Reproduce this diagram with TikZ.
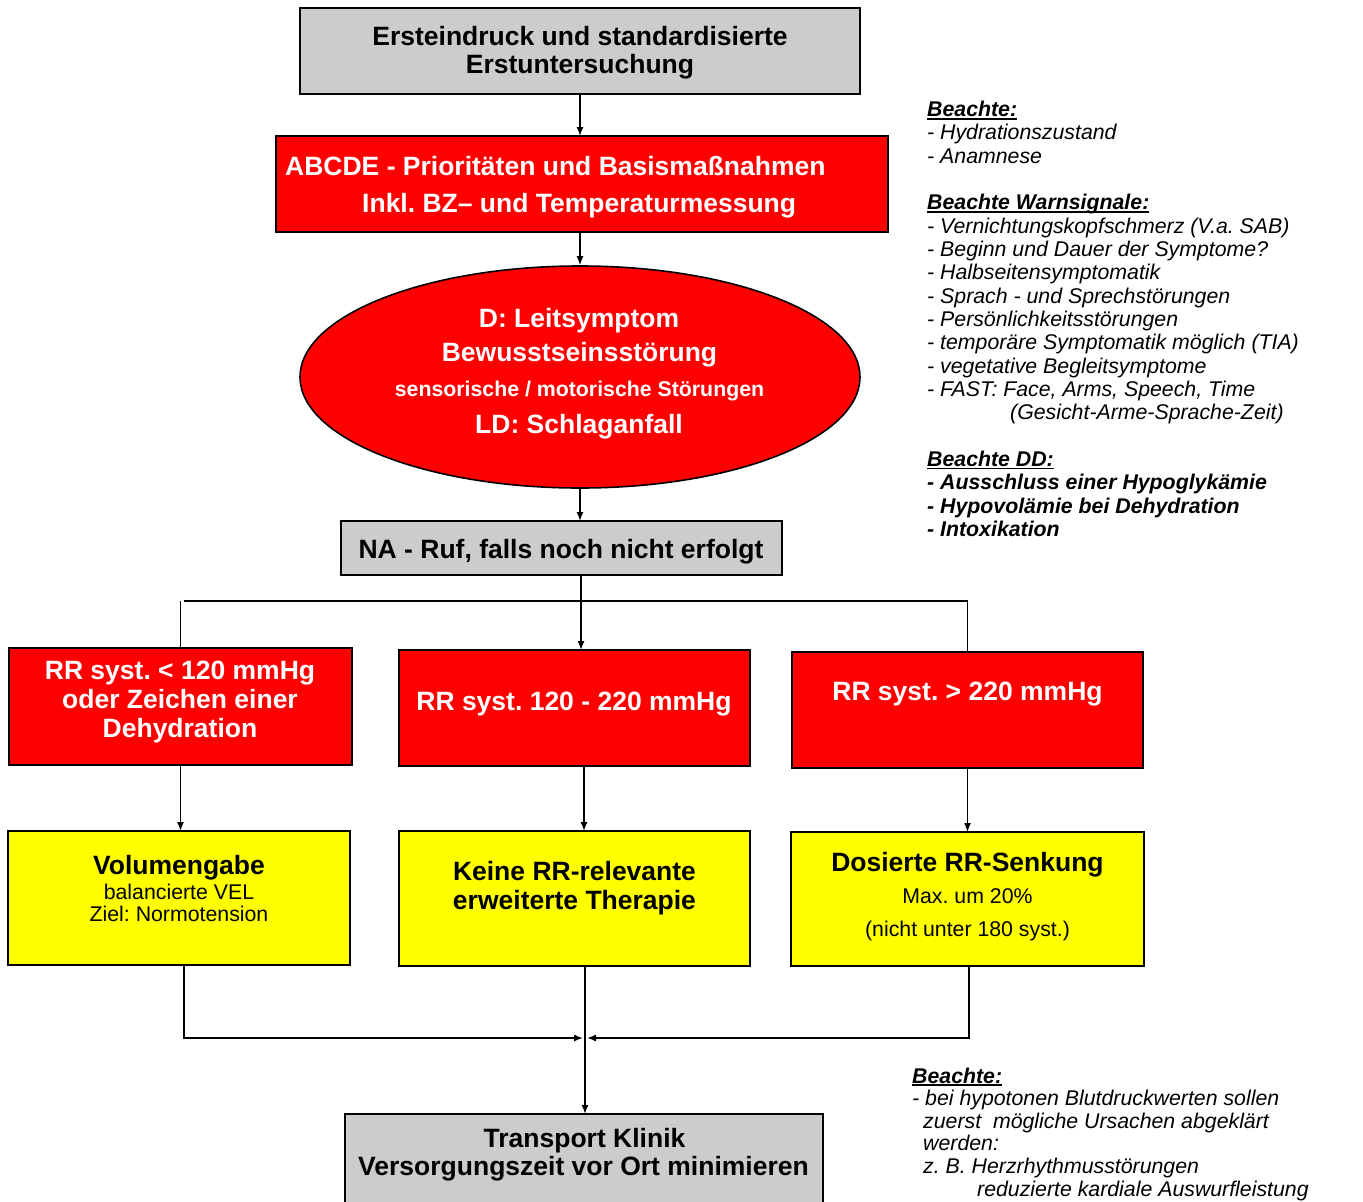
\documentclass[tikz,border=0pt]{standalone}
\usepackage{fontspec}
\setmainfont{Liberation Sans}
\usetikzlibrary{arrows.meta,shapes.geometric}
\definecolor{boxgray}{RGB}{204,204,204}
\definecolor{alarmred}{RGB}{255,0,0}
\definecolor{signyellow}{RGB}{255,255,0}
% underlined heading with a rule just below the baseline
\newcommand\ulhead[1]{\setbox0\hbox{#1}\rlap{\rule[-3pt]{\wd0}{1.6pt}}\box0}
\frenchspacing
\begin{document}
\begin{tikzpicture}[x=1pt,y=-1pt,
  box/.style={draw=black, line width=2pt, inner sep=0pt, outer sep=0pt},
  graybox/.style={box, fill=boxgray},
  redbox/.style={box, fill=alarmred},
  yelbox/.style={box, fill=signyellow},
  big/.style={inner sep=0pt, anchor=base, font=\fontsize{26.5}{28}\selectfont\bfseries},
  bigw/.style={big, text=white},
  midw/.style={inner sep=0pt, anchor=base, text=white, font=\fontsize{21.3}{23}\selectfont\bfseries},
  norm/.style={inner sep=0pt, anchor=base, font=\fontsize{21.3}{23}\selectfont},
  note/.style={inner sep=0pt, anchor=base west, font=\fontsize{21.3}{23}\selectfont\itshape},
  arr/.style={line width=1.4pt, -{Latex[length=9pt,width=7pt]}},
  link/.style={line width=1.6pt}]
\useasboundingbox (0,0) rectangle (1363,1202);
\clip (0,0) rectangle (1363,1202);

% ---------- boxes ----------
\node[graybox, minimum width=560pt, minimum height=86pt] (g1) at (580,51) {};
\node[redbox, minimum width=612pt, minimum height=96pt] (abc) at (582,184) {};
\node[ellipse, draw=black, line width=1.6pt, fill=alarmred, inner sep=0pt,
      minimum width=560pt, minimum height=222pt] (ell) at (580,377) {};
\node[graybox, minimum width=441pt, minimum height=54pt] (na) at (561.5,548) {};

\node[redbox, minimum width=343pt, minimum height=117pt] (rr1) at (180.5,706.5) {};
\node[redbox, minimum width=351pt, minimum height=116pt] (rr2) at (574.5,708) {};
\node[redbox, minimum width=351pt, minimum height=116pt] (rr3) at (967.5,710) {};

\node[yelbox, minimum width=342pt, minimum height=134pt] (y1) at (179,898) {};
\node[yelbox, minimum width=351pt, minimum height=135pt] (y2) at (574.5,898.5) {};
\node[yelbox, minimum width=353pt, minimum height=134pt] (y3) at (967.5,899) {};

\node[graybox, minimum width=478pt, minimum height=101pt] (tk) at (584,1164.5) {};

% ---------- box texts ----------
\node[big] (tg1a) at (580,45) {Ersteindruck und standardisierte};
\node[big] (tg1b) at (580,73) {Erstuntersuchung};

\node[bigw, anchor=base west] (tabc1) at (285,175) {ABCDE - Prioritäten und Basismaßnahmen};
\node[bigw, anchor=base west] (tabc2) at (362,212) {Inkl. BZ– und Temperaturmessung};

\node[bigw] (tell1) at (579,327.5) {D: Leitsymptom};
\node[bigw] (tell2) at (579.5,361.7) {Bewusstseinsstörung};
\node[midw] (tell3) at (579.5,396) {sensorische / motorische Störungen};
\node[bigw] (tell4) at (579,433.5) {LD: Schlaganfall};

\node[big] (tna) at (561,558.5) {NA - Ruf, falls noch nicht erfolgt};

\node[bigw] (trr1a) at (180,679) {RR syst. < 120 mmHg};
\node[bigw] (trr1b) at (180,708.5) {oder Zeichen einer};
\node[bigw] (trr1c) at (180,737) {Dehydration};
\node[bigw] (trr2) at (574,710) {RR syst. 120 - 220 mmHg};
\node[bigw] (trr3) at (967.5,700) {RR syst. > 220 mmHg};

\node[big] (ty1a) at (179,874.3) {Volumengabe};
\node[norm] (ty1b) at (179,899) {balancierte VEL};
\node[norm] (ty1c) at (179,921.7) {Ziel: Normotension};

\node[big] (ty2a) at (574.5,880) {Keine RR-relevante};
\node[big] (ty2b) at (574.5,909) {erweiterte Therapie};

\node[big] (ty3a) at (967.5,871.7) {Dosierte RR-Senkung};
\node[norm] (ty3b) at (967.5,903.3) {Max. um 20\%};
\node[norm] (ty3c) at (967.5,936) {(nicht unter 180 syst.)};

\node[big] (ttk1) at (584.5,1147) {Transport Klinik};
\node[big] (ttk2) at (583.5,1175) {Versorgungszeit vor Ort minimieren};

% ---------- connectors ----------
\coordinate (bus) at (581,601);
\coordinate (join) at (585,1038);

\draw[arr] (g1.south) -- (g1.south |- abc.north);
\draw[arr] (ell.north |- abc.south) -- (ell.north);
\draw[arr] (ell.south) -- (ell.south |- na.north);
\draw[arr] (na.south -| bus) -- (bus |- rr2.north);
\draw[link] (rr1.north) -- (rr1.north |- bus);
\draw[link] (rr3.north) -- (rr3.north |- bus);
\draw[line width=2.4pt] ([xshift=3pt]rr1.north |- bus) -- (rr3.north |- bus);

\draw[arr] (rr1.south) -- (rr1.south |- y1.north);
\draw[arr] ([xshift=9.5pt]rr2.south) -- ([xshift=9.5pt]rr2.south |- y2.north);
\draw[arr] (rr3.south) -- (rr3.south |- y3.north);

\draw[arr] ([xshift=5pt]y1.south) |- ([xshift=-2pt]join);
\draw[arr] ([xshift=1.5pt]y3.south) |- ([xshift=2pt]join);
\draw[arr] (y2.south -| join) -- (join |- tk.north);

% ---------- side notes ----------
\foreach \k/\t in {
  0/{\bfseries\ulhead{Beachte:}},
  1/{- Hydrationszustand},
  2/{- Anamnese},
  4/{\bfseries\ulhead{Beachte Warnsignale:}},
  5/{- Vernichtungskopfschmerz (V.a. SAB)},
  6/{- Beginn und Dauer der Symptome?},
  7/{- Halbseitensymptomatik},
  8/{- Sprach - und Sprechstörungen},
  9/{- Persönlichkeitsstörungen},
  10/{- temporäre Symptomatik möglich (TIA)},
  11/{- vegetative Begleitsymptome},
  12/{- FAST: Face, Arms, Speech, Time},
  13/{\hspace*{83pt}(Gesicht-Arme-Sprache-Zeit)},
  15/{\bfseries\ulhead{Beachte DD:}},
  16/{\bfseries - Ausschluss einer Hypoglykämie},
  17/{\bfseries - Hypovolämie bei Dehydration},
  18/{\bfseries - Intoxikation}}
  \node[note] (na\k) at (927,116.5+23.33*\k) {\t};

\foreach \k/\t in {
  0/{\bfseries\ulhead{Beachte:}},
  1/{- bei hypotonen Blutdruckwerten sollen},
  2/{\hspace*{11pt}zuerst\ \ mögliche Ursachen abgeklärt},
  3/{\hspace*{11pt}werden:},
  4/{\hspace*{11pt}z. B. Herzrhythmusstörungen},
  5/{\hspace*{65pt}reduzierte kardiale Auswurfleistung}}
  \node[note] (nb\k) at (912,1083+22.6*\k) {\t};
\end{tikzpicture}
\end{document}
